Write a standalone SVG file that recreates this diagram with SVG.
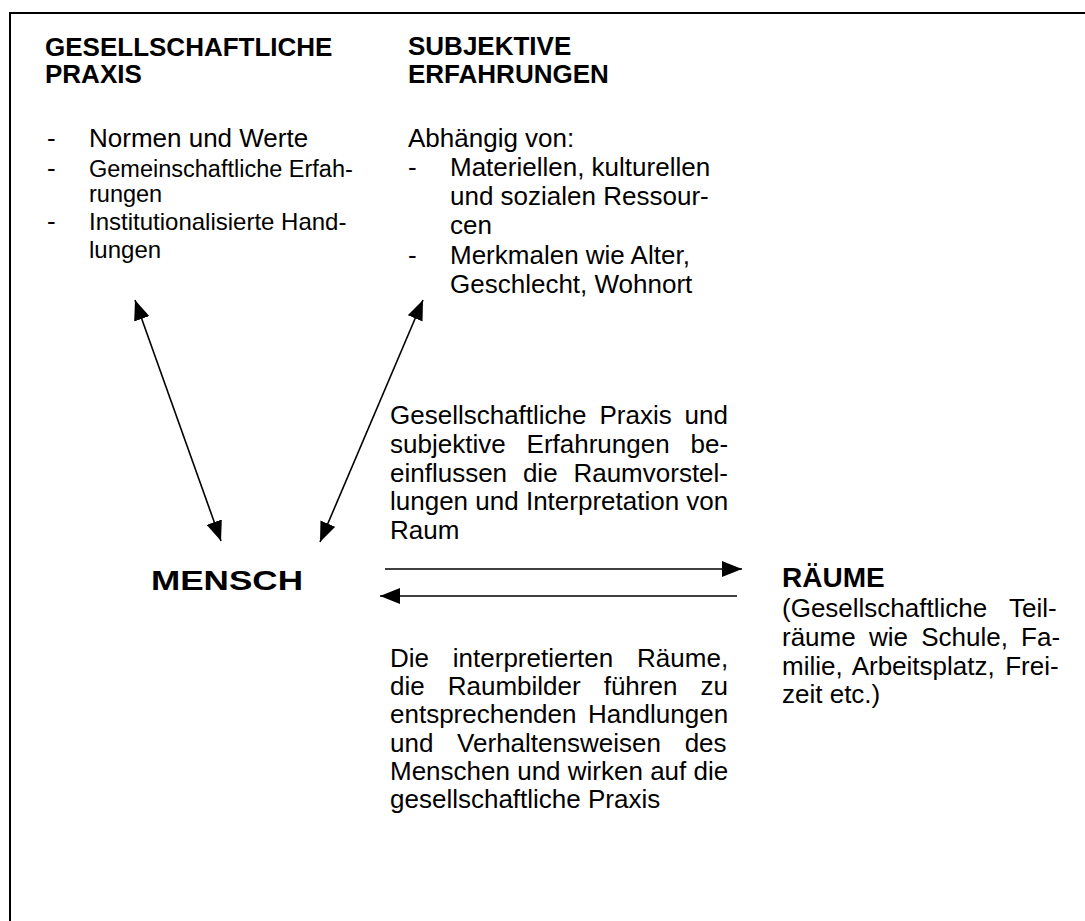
<svg xmlns="http://www.w3.org/2000/svg" width="1085" height="921" viewBox="0 0 1085 921">
<style>
text{font-family:"Liberation Sans",Arial,sans-serif;fill:#000}
.h{font-weight:bold;font-size:26px}
.b{font-size:26px}
.big{font-weight:bold;font-size:28px}
.ln{stroke:#000;stroke-width:1.6;fill:none}
.frame{stroke:#000;stroke-width:2;fill:none}
</style>
<defs>
<marker id="ah" viewBox="0 0 20 16" refX="20" refY="8" markerWidth="20" markerHeight="16" markerUnits="userSpaceOnUse" orient="auto-start-reverse"><path d="M0,0 L20,8 L0,16 z" fill="#000"/></marker>
</defs>
<rect width="1085" height="921" fill="#fff"/>
<path class="frame" d="M9,13 H1085 M10,13 V921"/>

<g id="gesellschaftliche-praxis">
<text class="h" x="45" y="56">GESELLSCHAFTLICHE</text>
<text class="h" x="45" y="83">PRAXIS</text>
<text class="b" x="47" y="147">-</text>
<text class="b" x="89" y="147">Normen und Werte</text>
<text class="b" x="47" y="177">-</text>
<text x="89" y="177" font-size="23.5">Gemeinschaftliche Erfah-</text>
<text x="89" y="202" font-size="23.5">rungen</text>
<text class="b" x="47" y="230">-</text>
<text x="89" y="230" font-size="24">Institutionalisierte Hand-</text>
<text x="89" y="258" font-size="24">lungen</text>
</g>

<g id="subjektive-erfahrungen">
<text class="h" x="408" y="55">SUBJEKTIVE</text>
<text class="h" x="408" y="83">ERFAHRUNGEN</text>
<text class="b" x="408" y="147">Abhängig von:</text>
<text class="b" x="408" y="176">-</text>
<text class="b" x="450" y="176">Materiellen, kulturellen</text>
<text class="b" x="450" y="205">und sozialen Ressour-</text>
<text class="b" x="450" y="234">cen</text>
<text class="b" x="408" y="264">-</text>
<text class="b" x="450" y="264">Merkmalen wie Alter,</text>
<text class="b" x="450" y="293">Geschlecht, Wohnort</text>
</g>

<g id="mensch">
<text class="big" x="151" y="590" font-size="30" textLength="152" lengthAdjust="spacingAndGlyphs">MENSCH</text>
</g>

<g id="raeume">
<text class="big" x="782" y="587">RÄUME</text>
<text class="b" x="782" y="617" word-spacing="15.1">(Gesellschaftliche Teil-</text>
<text class="b" x="782" y="646" word-spacing="6">räume wie Schule, Fa-</text>
<text class="b" x="782" y="675" word-spacing="3.2">milie, Arbeitsplatz, Frei-</text>
<text class="b" x="782" y="703">zeit etc.)</text>
</g>

<g id="label-beeinflussen">
<text class="b" x="390" y="424" word-spacing="5.7">Gesellschaftliche Praxis und</text>
<text class="b" x="390" y="453" word-spacing="13.7">subjektive Erfahrungen be-</text>
<text class="b" x="390" y="482" word-spacing="8.6">einflussen die Raumvorstel-</text>
<text class="b" x="390" y="510">lungen und Interpretation von</text>
<text class="b" x="390" y="539">Raum</text>
</g>

<g id="label-raumbilder">
<text class="b" x="390" y="667" word-spacing="16.6">Die interpretierten Räume,</text>
<text class="b" x="390" y="695" word-spacing="15.8">die Raumbilder führen zu</text>
<text class="b" x="390" y="723" word-spacing="4.2">entsprechenden Handlungen</text>
<text class="b" x="390" y="752" word-spacing="16.5">und Verhaltensweisen des</text>
<text class="b" x="390" y="780">Menschen und wirken auf die</text>
<text class="b" x="390" y="808">gesellschaftliche Praxis</text>
</g>

<g id="connectors">
<path class="ln" d="M135,300 L221,541" marker-start="url(#ah)" marker-end="url(#ah)"/>
<path class="ln" d="M423,300 L320,542" marker-start="url(#ah)" marker-end="url(#ah)"/>
<path class="ln" d="M385,569 L742,569" marker-end="url(#ah)"/>
<path class="ln" d="M737,596 L380,596" marker-end="url(#ah)"/>
</g>
</svg>
